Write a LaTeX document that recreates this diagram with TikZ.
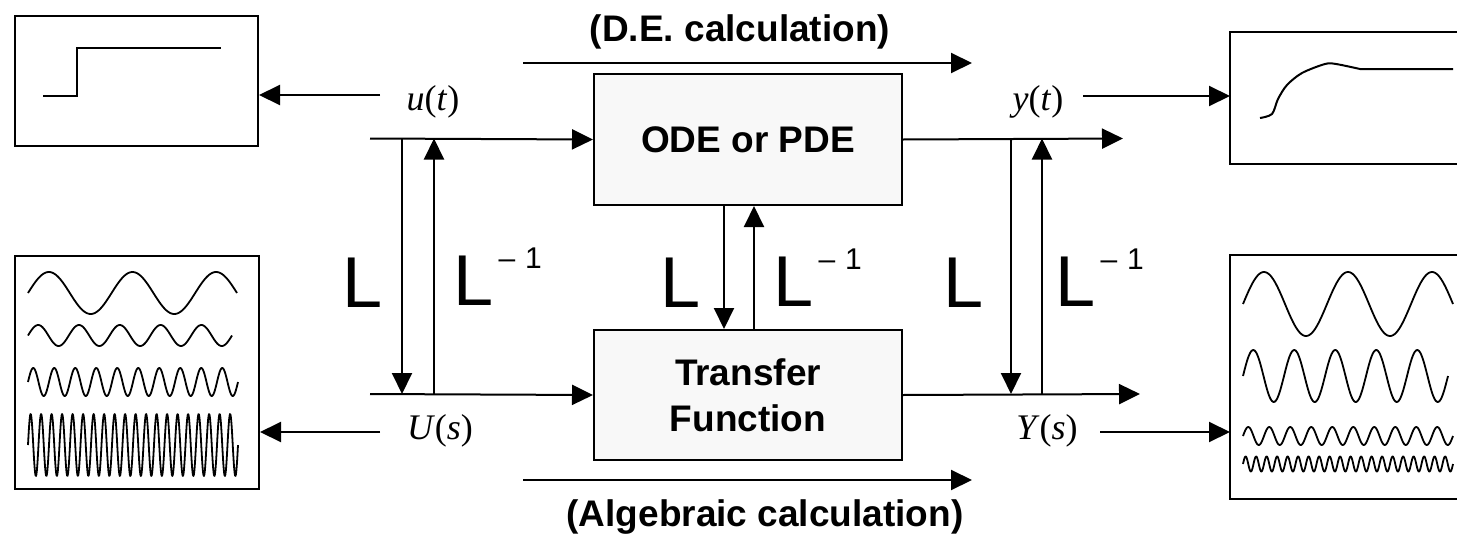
\documentclass[tikz,border=0pt]{standalone}
\usepackage{fontspec}
\setmainfont{Liberation Sans}
\newfontfamily\tnr{Liberation Serif}
\usetikzlibrary{arrows.meta}
\definecolor{boxfill}{RGB}{248,248,248}
\newcommand\lblfont{\tnr\fontsize{36}{36}\selectfont}
\newcommand\boldfont{\bfseries\fontsize{37}{46}\selectfont}
\newcommand\Lfont{\fontsize{72}{72}\selectfont}
\newcommand\Linv{L\hspace{5pt}\raisebox{37pt}{\fontsize{30}{30}\selectfont –\hspace{10pt}1}}
\begin{document}
\begin{tikzpicture}[x=1pt,y=-1pt,line width=2pt,
  arr/.style={-{Triangle[length=21pt,width=20pt]}},
  panel/.style={draw,line width=2pt,inner sep=0pt,anchor=north west,fill=white},
  openpanel/.style={inner sep=0pt,anchor=north west,outer sep=1pt},
  mainbox/.style={draw,line width=2pt,inner sep=0pt,fill=boxfill,minimum width=308pt,minimum height=131pt,anchor=north west,font=\boldfont,align=center},
  lbl/.style={inner sep=0pt,font=\lblfont},
  bigL/.style={inner sep=0pt,anchor=base west,font=\Lfont},
  calc/.style={inner sep=0pt,font=\boldfont},
  wave/.style={line width=1.8pt,line join=round}]
\useasboundingbox (0,0) rectangle (1457,533);
\clip (0,0) rectangle (1457,533);

% panels
\node[panel,minimum width=243pt,minimum height=130pt] (stepbox) at (14,15) {};
\node[panel,minimum width=244pt,minimum height=233pt] (inspec) at (14,255) {};
\node[openpanel,minimum width=240pt,minimum height=130pt] (resp) at (1230,32) {};
\node[openpanel,minimum width=240pt,minimum height=242pt] (outspec) at (1230,255) {};
\draw[line width=2pt] (resp.north east) -- (resp.north west) -- (resp.south west) -- (resp.south east);
\draw[line width=2pt] (outspec.north east) -- (outspec.north west) -- (outspec.south west) -- (outspec.south east);

% step
\draw[line width=2pt] (43,96) -- (77,96) -- (77,48) -- (221,48);
% step response
\draw[line width=2pt,line join=round] plot[smooth,tension=0.5] coordinates {(1260,118) (1272,114) (1278,99) (1287,85) (1302,73) (1325,64) (1336,64) (1360,69)} -- (1453,69);

% input spectrum waves
\draw[wave] plot[domain=0:209,samples=160] ({28+\x},{293-21*sin(\x*4.3062)});
\draw[wave] plot[domain=0:204,samples=200] ({28+\x},{335.5-10.5*sin(\x*8.8235)});
\draw[wave] plot[domain=0:210,samples=300] ({28+\x},{382-14*sin(\x*17.1429)});
\draw[wave] plot[domain=0:210,samples=500] ({28+\x},{445-31*sin(\x*34.2857)});
% output spectrum waves
\draw[wave] plot[domain=0:210,samples=160] ({1243+\x},{304-32*sin(\x*4.2857)});
\draw[wave] plot[domain=0:205,samples=200] ({1243+\x},{376-26*sin(\x*8.7805)});
\draw[wave] plot[domain=0:210,samples=300] ({1243+\x},{436-9*sin(\x*17.1429)});
\draw[wave] plot[domain=0:210,samples=500] ({1243+\x},{464-7.5*sin(\x*34.2857)});

% main boxes
\node[mainbox] (ode) at (593,73) {ODE or PDE};
\node[mainbox,minimum height=130pt] (tf) at (593,329) {Transfer\\Function};

% signal labels
\node[lbl] (ut) at (433,102) {\textit{u}(\textit{t})};
\node[lbl] (Us) at (440,431) {\textit{U}(\textit{s})};
\node[lbl] (yt) at (1038,102) {\textit{y}(\textit{t})};
\node[lbl] (Ys) at (1047,431) {\textit{Y}(\textit{s})};

% arrows to panels
\coordinate (uta) at (380,95);
\draw[arr] (uta) -- (uta -| stepbox.east);
\coordinate (Usa) at (380,432);
\draw[arr] (Usa) -- (Usa -| inspec.east);
\coordinate (yta) at (1083,96);
\draw[arr] (yta) -- (yta -| resp.west);
\coordinate (Ysa) at (1100,432);
\draw[arr] (Ysa) -- (Ysa -| outspec.west);

% left signal lines
\coordinate (ul) at (370,138.5);
\coordinate (Ul) at (370,394);
\draw[arr] (ul) -- (ode.west);
\draw[arr] (Ul) -- (tf.west);
\coordinate (lda) at (402,138.5);
\coordinate (ldb) at (402,394);
\coordinate (lua) at (434,394);
\coordinate (lub) at (434,138.5);
\draw[arr] (lda) -- (ldb);
\draw[arr] (lua) -- (lub);

% right signal lines
\coordinate (yr) at (1123,138.5);
\coordinate (Yr) at (1140,394);
\draw[arr] (ode.east) -- (yr);
\draw[arr] (tf.east) -- (Yr);
\coordinate (rda) at (1011,138.5);
\coordinate (rdb) at (1011,394);
\coordinate (rua) at (1042,394);
\coordinate (rub) at (1042,138.5);
\draw[arr] (rda) -- (rdb);
\draw[arr] (rua) -- (rub);

% middle arrows
\draw[arr] ([xshift=-24pt]ode.south) -- ([xshift=-24pt]tf.north);
\draw[arr] ([xshift=6pt]tf.north) -- ([xshift=6pt]ode.south);

% L labels
\node[bigL] (L1) at (341.5,307) {L};
\node[bigL] (L1i) at (452.5,305) {\Linv};
\node[bigL] (L2) at (659.5,307) {L};
\node[bigL] (L2i) at (772.5,306) {\Linv};
\node[bigL] (L3) at (942.5,307) {L};
\node[bigL] (L3i) at (1054.5,306) {\Linv};

% calculation arrows
\coordinate (de1) at (523,63);
\coordinate (de2) at (972,63);
\draw[arr] (de1) -- (de2);
\node[calc] (delbl) at (740,32) {(D.E. calculation)};
\coordinate (al1) at (523,480);
\coordinate (al2) at (972,480);
\draw[arr] (al1) -- (al2);
\node[calc] (allbl) at (765,517) {(Algebraic calculation)};
\end{tikzpicture}
\end{document}
